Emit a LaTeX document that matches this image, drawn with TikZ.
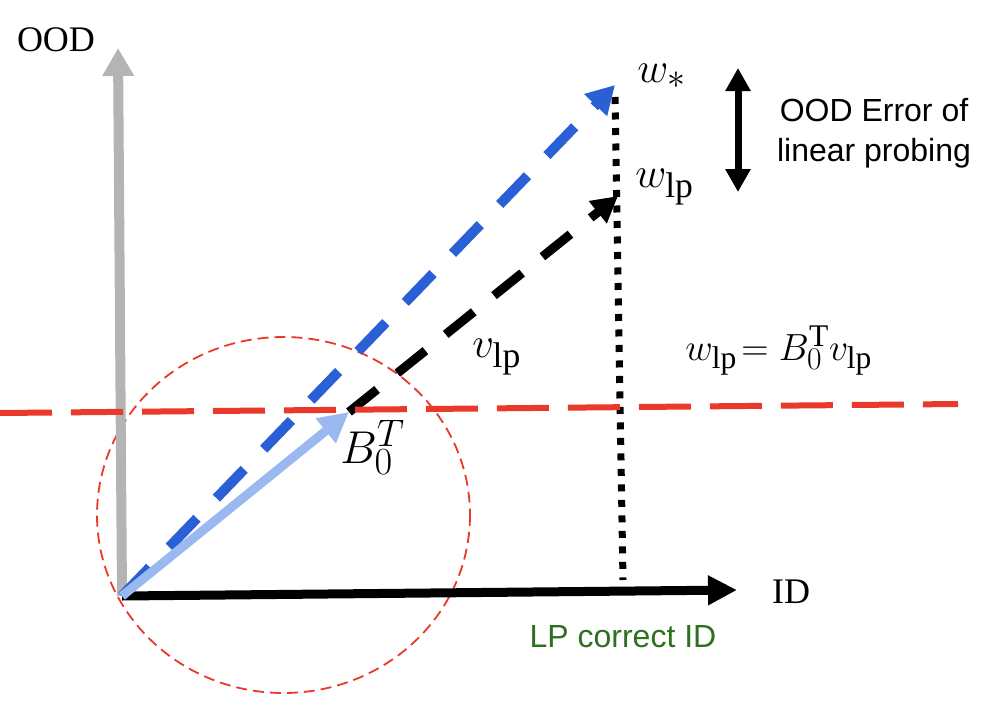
\documentclass[tikz,border=0pt]{standalone}
\usepackage{fontspec}
\setmainfont{Liberation Serif}
\newfontfamily\sansf{Liberation Sans}
\usetikzlibrary{arrows.meta}
\definecolor{axgray}{RGB}{180,180,180}
\definecolor{lblue}{RGB}{153,185,240}
\definecolor{dblue}{RGB}{42,95,214}
\definecolor{rred}{RGB}{233,57,43}
\definecolor{lpgreen}{RGB}{46,112,32}
\tikzset{
  bigserif/.style={font=\fontsize{36}{40}\selectfont, inner sep=0pt},
  mathbase/.style={font=\fontsize{24.88}{30}\selectfont, inner sep=0pt, anchor=base west},
  mathlbl/.style={mathbase, scale=1.72},
  sanslbl/.style={font=\sansf\fontsize{32}{40}\selectfont, inner sep=0pt, align=center},
}
\begin{document}
\begin{tikzpicture}[x=1pt,y=-1pt]
\useasboundingbox (0,0) rectangle (986,710);
% coordinates
\coordinate (O) at (122,596);
\coordinate (oodtip) at (118,48);
\coordinate (idtip) at (737,590);
\coordinate (btip) at (349,412);
\coordinate (wstar) at (615,85);
\coordinate (wlp) at (618,196);
\coordinate (dtop) at (615,97);
\coordinate (dbot) at (623,580);
\coordinate (errtop) at (738,68);
\coordinate (errbot) at (738,192);
\coordinate (redL) at (0,413);
\coordinate (redR) at (958,404);
% red dashed ellipse
\draw[rred, line width=1.8pt, dash pattern=on 11pt off 6pt] (283.5,515) ellipse [x radius=186.5, y radius=178];
% axes
\draw[axgray, line width=10pt, -{Triangle[length=28pt,width=30pt]}] (O) -- (oodtip);
\draw[black, line width=9pt, -{Triangle[length=29pt,width=28pt]}] (O) -- (idtip);
% dotted vertical
\draw[black, line width=7pt, dash pattern=on 7pt off 8.5pt] (dtop) -- (dbot);
% blue dashed w_*
\draw[dblue, line width=10pt, dash pattern=on 40pt off 28pt, -{Triangle[length=28pt,width=30pt]}] (O) -- (wstar);
% black dashed v_lp
\draw[black, line width=9pt, dash pattern=on 36pt off 26pt, -{Triangle[length=26pt,width=27pt]}] (btip) -- (wlp);
% light blue B0^T
\draw[lblue, line width=9pt, -{Triangle[length=30pt,width=30pt]}] (O) -- (btip);
% red dashed horizontal
\draw[rred, line width=6pt, dash pattern=on 52pt off 19pt] (redL) -- (redR);
% double arrow
\draw[black, line width=7pt, {Triangle[length=23pt,width=24pt]}-{Triangle[length=23pt,width=24pt]}] (errtop) -- (errbot);
% labels
\node[bigserif] (ood) at (56,40) {OOD};
\node[bigserif] (id) at (791,592) {ID};
\node[mathlbl] (lws) at (637,82) {$w_*$};
\node[mathlbl] (lwlp) at (635,187) {$w_{\mathrm{lp}}$};
\node[mathlbl] (lvlp) at (472,357) {$v_{\mathrm{lp}}$};
\node[mathbase, scale=1.85] (lb) at (340,463) {$B_0^T$};
\node[mathbase, scale=1.52] (eq) at (685,360) {$w_{\mathrm{lp}}\!= B_0^{\mathrm{T}} v_{\mathrm{lp}}$};
\node[sanslbl] (err) at (874,133) {OOD Error of\\linear probing};
\node[sanslbl, text=lpgreen] (lpc) at (623,637) {LP correct ID};
\end{tikzpicture}
\end{document}
